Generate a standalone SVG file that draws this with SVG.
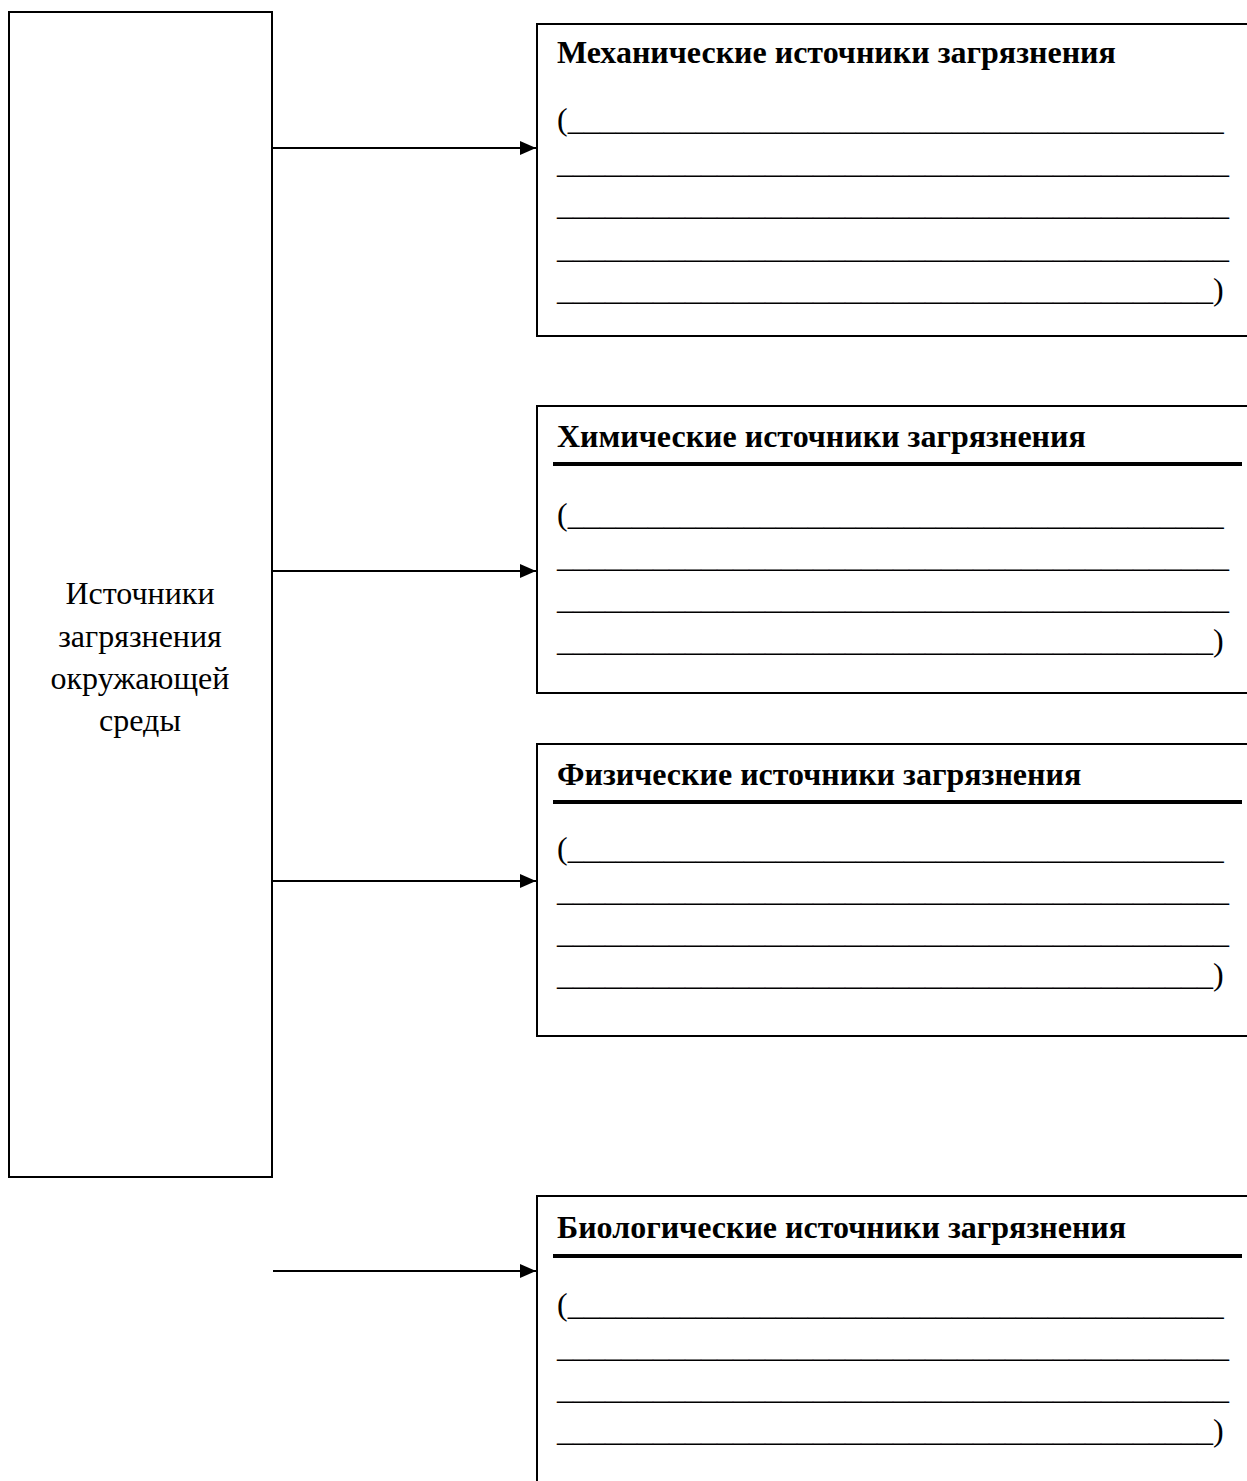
<svg xmlns="http://www.w3.org/2000/svg" width="1247" height="1481" viewBox="0 0 1247 1481">
<style>
.box{fill:#fff;stroke:#000;stroke-width:2}
.t{font-family:"Liberation Serif","Times New Roman",serif;font-size:32px;fill:#000}
.h{font-weight:bold}
.c{text-anchor:middle}
.ul{stroke:#000;stroke-width:4}
.con{stroke:#000;stroke-width:2;fill:none}
</style>
<defs>
<marker id="arr" markerWidth="16" markerHeight="14" refX="16" refY="7" orient="auto" markerUnits="userSpaceOnUse">
<path d="M0,0 L16,7 L0,14 Z" fill="#000"/>
</marker>
</defs>
<rect width="1247" height="1481" fill="#fff"/>
<g id="source">
<rect class="box" x="9" y="12" width="263" height="1165"/>
<text class="t c" x="140" y="604">Источники</text>
<text class="t c" x="140" y="647">загрязнения</text>
<text class="t c" x="140" y="689">окружающей</text>
<text class="t c" x="140" y="731">среды</text>
</g>
<g id="mechanical">
<rect class="box" x="537" y="24" width="730" height="312"/>
<text class="t h" x="557" y="63">Механические источники загрязнения</text>
<text class="t" x="557" y="130">(_________________________________________</text>
<text class="t" x="557" y="173">__________________________________________</text>
<text class="t" x="557" y="215">__________________________________________</text>
<text class="t" x="557" y="258">__________________________________________</text>
<text class="t" x="557" y="300">_________________________________________)</text>
</g>
<g id="chemical">
<rect class="box" x="537" y="406" width="730" height="287"/>
<text class="t h" x="557" y="447">Химические источники загрязнения</text>
<line class="ul" x1="553" y1="464" x2="1242" y2="464"/>
<text class="t" x="557" y="525">(_________________________________________</text>
<text class="t" x="557" y="567">__________________________________________</text>
<text class="t" x="557" y="609">__________________________________________</text>
<text class="t" x="557" y="651">_________________________________________)</text>
</g>
<g id="physical">
<rect class="box" x="537" y="744" width="730" height="292"/>
<text class="t h" x="557" y="785">Физические источники загрязнения</text>
<line class="ul" x1="553" y1="802" x2="1242" y2="802"/>
<text class="t" x="557" y="859">(_________________________________________</text>
<text class="t" x="557" y="901">__________________________________________</text>
<text class="t" x="557" y="943">__________________________________________</text>
<text class="t" x="557" y="985">_________________________________________)</text>
</g>
<g id="biological">
<rect class="box" x="537" y="1196" width="730" height="320"/>
<text class="t h" x="557" y="1238">Биологические источники загрязнения</text>
<line class="ul" x1="553" y1="1256" x2="1242" y2="1256"/>
<text class="t" x="557" y="1315">(_________________________________________</text>
<text class="t" x="557" y="1357">__________________________________________</text>
<text class="t" x="557" y="1399">__________________________________________</text>
<text class="t" x="557" y="1441">_________________________________________)</text>
</g>
<g id="connectors">
<line class="con" x1="273" y1="148" x2="536" y2="148" marker-end="url(#arr)"/>
<line class="con" x1="273" y1="571" x2="536" y2="571" marker-end="url(#arr)"/>
<line class="con" x1="273" y1="881" x2="536" y2="881" marker-end="url(#arr)"/>
<line class="con" x1="273" y1="1271" x2="536" y2="1271" marker-end="url(#arr)"/>
</g>
</svg>
